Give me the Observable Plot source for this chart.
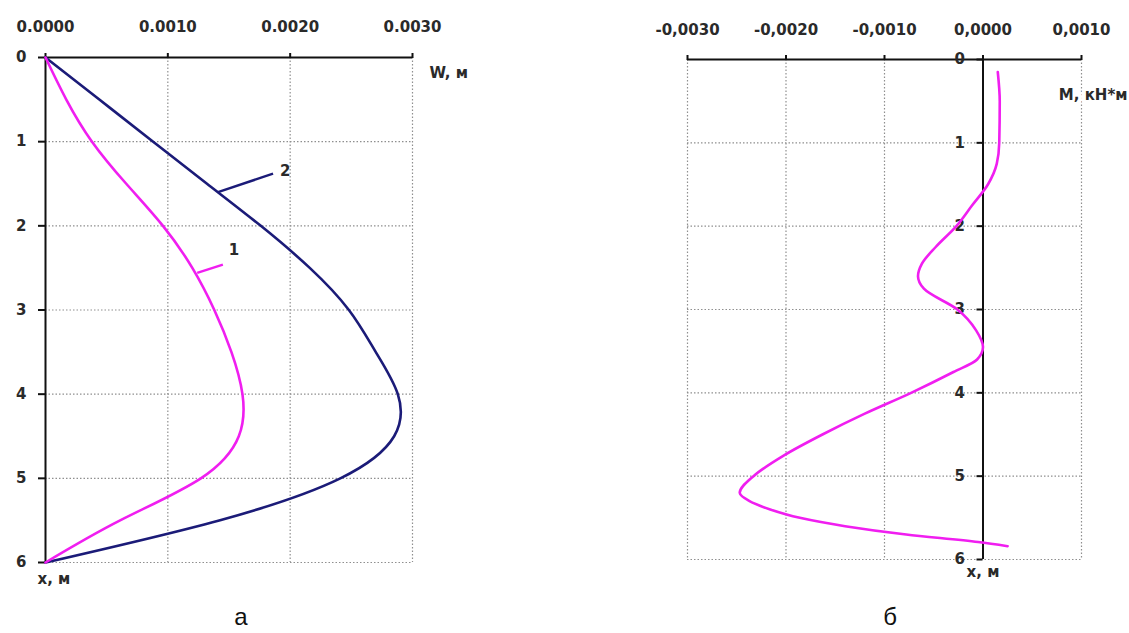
<!DOCTYPE html>
<html>
<head>
<meta charset="utf-8">
<script src="https://cdn.jsdelivr.net/npm/d3@7"></script>
<script src="https://cdn.jsdelivr.net/npm/@observablehq/plot@0.6"></script>
<style>
  body { margin: 0; background: #fff; }
  #wrap { position: relative; width: 1129px; height: 633px; overflow: hidden; background: #fff; }
  .panel { position: absolute; top: 0; }
  .cap { position: absolute; top: 605px; font: 24px "Liberation Sans", Arial, sans-serif; line-height: 1; color: #111; transform: translateX(-50%); }
</style>
</head>
<body>
<div id="wrap">
  <div class="panel" id="pa" style="left:0"></div>
  <div class="panel" id="pb" style="left:560px"></div>
  <div class="cap" style="left:241px">а</div>
  <div class="cap" style="left:890px">б</div>
</div>
<script>
// Deflection W along the pile depth x (panel а), every 0.5 m
const depthW = [0, 0.5, 1, 1.5, 2, 2.5, 3, 3.5, 4, 4.5, 5, 5.5, 6];
const w1 = [0, 0.00017, 0.00038, 0.00066, 0.00096, 0.0012, 0.00138, 0.00152, 0.00161, 0.00158, 0.00127, 0.00061, 0];
const w2 = [0, 0.00044, 0.00088, 0.00132, 0.00176, 0.00216, 0.00248, 0.0027, 0.00288, 0.00285, 0.00241, 0.00142, 0];

// Bending moment M along the pile depth x (panel б)
const depthM = [0.15, 0.5, 1, 1.25, 1.5, 1.75, 2, 2.25, 2.45, 2.6, 2.75, 3, 3.25, 3.45, 3.6, 3.75, 4, 4.25, 4.5, 4.75, 5, 5.2, 5.3, 5.4, 5.5, 5.6, 5.7, 5.79, 5.84];
const moment = [0.00015, 0.00017, 0.000165, 0.00014, 0.00005, -0.00011, -0.00027, -0.00048, -0.00062, -0.00066, -0.0006, -0.00026, -0.00007, 0, -0.00006, -0.0003, -0.00073, -0.0012, -0.00163, -0.00202, -0.00233, -0.00247, -0.00237, -0.00216, -0.00186, -0.0014, -0.00078, -0.00005, 0.00025];

// Tick values
const wTicks = [0, 0.001, 0.002, 0.003];
const mTicks = [-0.003, -0.002, -0.001, 0, 0.001];
const depthTicks = [0, 1, 2, 3, 4, 5, 6];

// Curve numbers with leader lines, in data units (W, x)
const curveNames = ["1", "2"];
const nameW = [0.00154, 0.00196];
const nameDepth = [2.29, 1.35];
const leaderW1 = [0.00124, 0.00141];
const leaderDepth1 = [2.56, 1.6];
const leaderW2 = [0.00145, 0.00186];
const leaderDepth2 = [2.46, 1.38];

const navy = "#1b1b78";
const magenta = "#f01ef0";
const gridStyle = {stroke: "#8f8f8f", strokeOpacity: 1, strokeWidth: 1.2, strokeDasharray: "1.5,2"};
const axisLine = {stroke: "#111", strokeWidth: 2};
const svgStyle = {fontFamily: "'DejaVu Sans', sans-serif", fontSize: "15px", fontWeight: "bold", color: "#2a2a2a", background: "#fff", overflow: "visible"};

const rowsW = depthW.map((d, i) => ({depth: d, w1: w1[i], w2: w2[i]}));
const rowsM = depthM.map((d, i) => ({depth: d, m: moment[i]}));
const names = curveNames.map((t, i) => ({t, w: nameW[i], depth: nameDepth[i]}));
const leaders = curveNames.map((t, i) => ({w1: leaderW1[i], d1: leaderDepth1[i], w2: leaderW2[i], d2: leaderDepth2[i]}));

// Panel а: deflection
const wDomain = [0, 0.003];
const left = Plot.plot({
  width: 560, height: 600,
  marginLeft: 45, marginRight: 148, marginTop: 57, marginBottom: 38,
  style: svgStyle,
  x: {domain: wDomain, axis: null, label: null},
  y: {domain: [0, 6], reverse: true, axis: null, label: null},
  marks: [
    Plot.gridX(wTicks.slice(1), gridStyle),
    Plot.gridY(depthTicks.slice(1), gridStyle),
    Plot.ruleY([0], axisLine),
    Plot.ruleX([0], axisLine),
    Plot.axisX(wTicks, {anchor: "top", label: null, tickSize: 5, tickPadding: 21, strokeWidth: 2, stroke: "#111", fill: "#2a2a2a", tickFormat: d3.format(".4f")}),
    Plot.axisY(depthTicks, {anchor: "left", label: null, tickSize: 7, tickPadding: 12, strokeWidth: 2, stroke: "#111", fill: "#2a2a2a", tickFormat: d => String(d)}),
    Plot.line(rowsW, {x: "w2", y: "depth", curve: "natural", stroke: navy, strokeWidth: 2.6}),
    Plot.line(rowsW, {x: "w1", y: "depth", curve: "natural", stroke: magenta, strokeWidth: 2.6}),
    Plot.link(leaders, {x1: "w1", y1: "d1", x2: "w2", y2: "d2", stroke: (d, i) => i === 0 ? magenta : navy, strokeWidth: 2.4}),
    Plot.text(names, {x: "w", y: "depth", text: "t", fill: "#2a2a2a"}),
    Plot.text(["W, м"], {frameAnchor: "top-right", textAnchor: "start", dx: 17, dy: 10, fill: "#2a2a2a"}),
    Plot.text(["х, м"], {frameAnchor: "bottom-left", textAnchor: "start", dx: -8, dy: 21, fill: "#2a2a2a"})
  ]
});
document.getElementById("pa").append(left);

// Panel б: bending moment
const mDomain = [-0.003, 0.001];
const rightW = 569, rightML = 127, rightMR = 48;
const axisShift = (rightW - rightML - rightMR) * (0 - mDomain[0]) / (mDomain[1] - mDomain[0]);
const right = Plot.plot({
  width: rightW, height: 600,
  marginLeft: rightML, marginRight: rightMR, marginTop: 59, marginBottom: 41,
  style: svgStyle,
  x: {domain: mDomain, axis: null, label: null},
  y: {domain: [0, 6], reverse: true, axis: null, label: null},
  marks: [
    Plot.gridX(mTicks.filter(d => d !== 0), gridStyle),
    Plot.gridY(depthTicks.slice(1), gridStyle),
    Plot.ruleY([0], axisLine),
    Plot.ruleX([0], axisLine),
    Plot.axisX(mTicks, {anchor: "top", label: null, tickSize: 5, tickPadding: 20, strokeWidth: 2, stroke: "#111", fill: "#2a2a2a",
      tickFormat: d => d3.format(".4f")(d).replace("−", "-").replace(".", ",")}),
    Plot.axisY(depthTicks, {anchor: "left", dx: axisShift, label: null, tickSize: 6, tickPadding: 12, strokeWidth: 2, stroke: "#111", fill: "#2a2a2a", tickFormat: d => String(d)}),
    Plot.line(rowsM, {x: "m", y: "depth", curve: "monotone-y", stroke: magenta, strokeWidth: 2.6}),
    Plot.text(["М, кН*м"], {frameAnchor: "top-right", textAnchor: "end", dx: 46, dy: 30, fill: "#2a2a2a", stroke: "#fff", strokeWidth: 8, paintOrder: "stroke"}),
    Plot.text([{label: "х, м", m: 0}], {x: "m", text: "label", frameAnchor: "bottom", dy: 17, fill: "#2a2a2a"})
  ]
});
document.getElementById("pb").append(right);
</script>
</body>
</html>
